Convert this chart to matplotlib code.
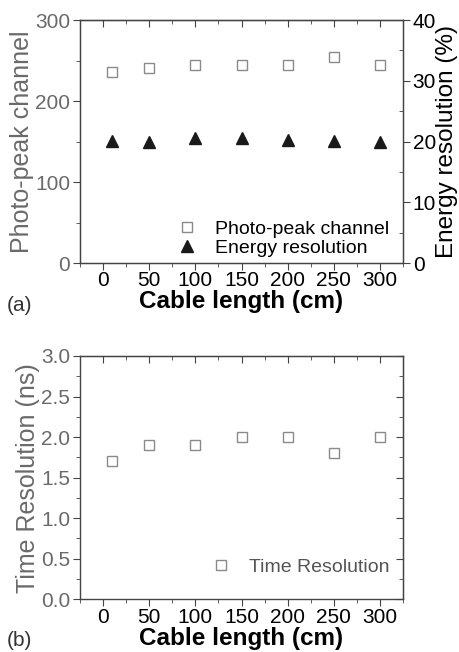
import matplotlib
matplotlib.use("Agg")
import matplotlib.pyplot as plt
from matplotlib.ticker import MultipleLocator

plt.rcParams['font.family'] = ['Liberation Sans', 'DejaVu Sans']

# data
cable_len = [10, 50, 100, 150, 200, 250, 300]
photo_peak = [236, 241, 244, 244, 244, 254, 245]
energy_res = [20.1, 20.0, 20.5, 20.6, 20.2, 20.1, 20.0]
time_res = [1.7, 1.9, 1.9, 2.0, 2.0, 1.8, 2.0]
x_ticks = [0, 50, 100, 150, 200, 250, 300]

GRAY = '#6a6a6a'
SPINE = '#444444'


def style_axis(ax, ycol):
  for s in ax.spines.values():
    s.set_color(SPINE)
    s.set_linewidth(1.0)
  ax.set_xlim(-25, 325)
  ax.set_xticks(x_ticks)
  ax.xaxis.set_minor_locator(MultipleLocator(25))
  ax.tick_params(axis='x', which='major', direction='out', length=5, labelsize=15, colors=SPINE, labelcolor='black', pad=1)
  ax.tick_params(axis='x', which='minor', direction='out', length=3, colors=SPINE)
  ax.tick_params(axis='y', which='major', direction='out', length=5, labelsize=15, colors=SPINE, labelcolor=ycol, pad=2)
  ax.tick_params(axis='y', which='minor', direction='out', length=3, colors=SPINE)
  # mirrored ticks on top, pointing in
  top = ax.secondary_xaxis('top')
  top.set_xticks(x_ticks)
  top.xaxis.set_minor_locator(MultipleLocator(25))
  top.tick_params(which='major', direction='in', length=5, colors=SPINE, labeltop=False)
  top.tick_params(which='minor', direction='in', length=3, colors=SPINE)
  top.set_xticklabels([])
  ax.set_xlabel('Cable length (cm)', fontsize=17.5, fontweight='bold', labelpad=0)


fig = plt.figure(figsize=(4.59, 6.52), dpi=100)

# (a)
ax1 = fig.add_axes([0.1743, 0.5966, 0.7037, 0.3727])
ax1.plot(cable_len, photo_peak, linestyle='none', marker='s', markersize=7,
         markerfacecolor='none', markeredgecolor='#8a8a8a', markeredgewidth=1.0,
         label='Photo-peak channel')
ax1.set_ylim(0, 300)
ax1.set_yticks([0, 100, 200, 300])
ax1.yaxis.set_minor_locator(MultipleLocator(50))
style_axis(ax1, GRAY)
ax1.set_ylabel('Photo-peak channel', fontsize=18, color=GRAY, labelpad=1)

ax1r = ax1.twinx()
ax1r.plot(cable_len, energy_res, linestyle='none', marker='^', markersize=8,
          color='#1a1a1a', label='Energy resolution')
ax1r.set_ylim(0, 40)
ax1r.set_yticks([0, 10, 20, 30, 40])
ax1r.yaxis.set_minor_locator(MultipleLocator(5))
ax1r.tick_params(axis='y', which='major', direction='out', length=5, labelsize=15, colors=SPINE, labelcolor='black', pad=2)
ax1r.tick_params(axis='y', which='minor', direction='in', length=3, colors=SPINE)
ax1r.set_ylabel('Energy resolution (%)', fontsize=17.5, color='black', labelpad=0)
for s in ax1r.spines.values():
  s.set_color(SPINE)

h1, l1 = ax1.get_legend_handles_labels()
h2, l2 = ax1r.get_legend_handles_labels()
ax1r.legend(h1 + h2, l1 + l2, loc='lower right', bbox_to_anchor=(1.0, -0.03),
            frameon=False, fontsize=14, handletextpad=0.7, labelspacing=0.05,
            handlelength=1.5, borderaxespad=0.3)

fig.text(0.015, 0.532, '(a)', fontsize=15, color='#333333', va='center')

# (b)
ax2 = fig.add_axes([0.1743, 0.0808, 0.7037, 0.3732])
ax2.plot(cable_len, time_res, linestyle='none', marker='s', markersize=7,
         markerfacecolor='none', markeredgecolor='#8a8a8a', markeredgewidth=1.0,
         label='Time Resolution')
ax2.set_ylim(0, 3.0)
ax2.set_yticks([0.0, 0.5, 1.0, 1.5, 2.0, 2.5, 3.0])
ax2.set_yticklabels(['%.1f' % v for v in [0.0, 0.5, 1.0, 1.5, 2.0, 2.5, 3.0]])
ax2.yaxis.set_minor_locator(MultipleLocator(0.25))
style_axis(ax2, GRAY)
ax2.set_ylabel('Time Resolution (ns)', fontsize=18, color=GRAY, labelpad=1)
right = ax2.secondary_yaxis('right')
right.set_yticks([0.0, 0.5, 1.0, 1.5, 2.0, 2.5, 3.0])
right.yaxis.set_minor_locator(MultipleLocator(0.25))
right.tick_params(which='major', direction='in', length=5, colors=SPINE)
right.tick_params(which='minor', direction='in', length=3, colors=SPINE)
right.set_yticklabels([])
leg = ax2.legend(loc='lower right', bbox_to_anchor=(1.0, 0.04), frameon=False,
                 fontsize=14, handletextpad=0.7, handlelength=1.5, borderaxespad=0.3)
for t in leg.get_texts():
  t.set_color('#555555')

fig.text(0.015, 0.018, '(b)', fontsize=15, color='#333333', va='center')

fig.savefig('out.png', dpi=100)
